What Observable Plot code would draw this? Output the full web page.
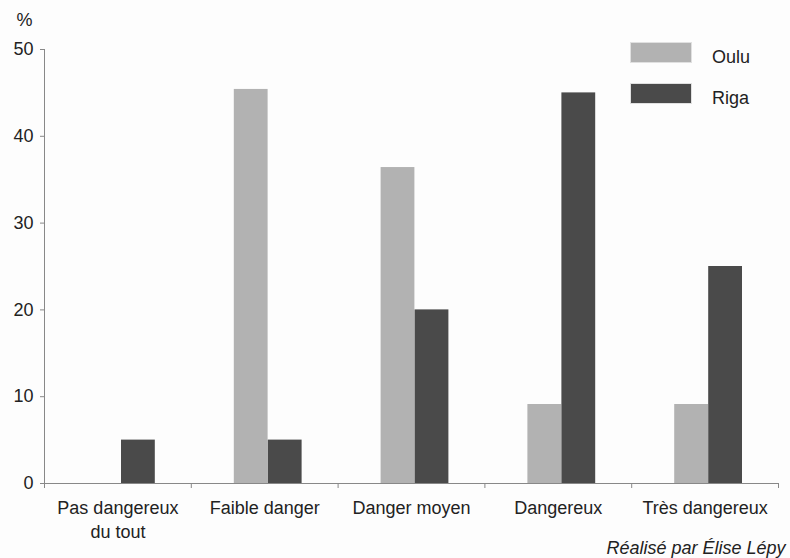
<!DOCTYPE html>
<html><head><meta charset="utf-8">
<script src="https://cdn.jsdelivr.net/npm/d3@7"></script>
<script src="https://cdn.jsdelivr.net/npm/@observablehq/plot@0.6"></script>
<style>
body{margin:0;background:#fdfdfd;font-family:"Liberation Sans",Arial,sans-serif}
#wrap{position:relative;width:790px;height:558px}
.lg{position:absolute;display:flex;align-items:center;font-size:18px;color:#222}
.lg .sw{width:62px;height:21px;box-sizing:border-box;border:1px solid #e0e0e0;margin-right:20px}
.lg span{position:relative;top:5px}
</style></head><body><div id="wrap"></div>
<script>
const categories = ["Pas dangereux\ndu tout","Faible danger","Danger moyen","Dangereux","Très dangereux"];
const series = ["Oulu","Riga"];
const oulu = [0,45.4,36.4,9.1,9.1];
const riga = [5,5,20,45,25];
const colors = ["#b2b2b2","#4a4a4a"];
const yTicks = [0,10,20,30,40,50];
const unitLabel = "%";
const credit = "Réalisé par Élise Lépy";

const rows = [];
categories.forEach((c,i)=>{
  rows.push({cat:c,i,series:"Oulu",value:oulu[i]});
  rows.push({cat:c,i,series:"Riga",value:riga[i]});
});

const plot = Plot.plot({
  width:790, height:558,
  marginLeft:44, marginRight:12, marginTop:49, marginBottom:75,
  style:{fontFamily:"'Liberation Sans', Arial, sans-serif", fontSize:"18px", color:"#222", background:"transparent"},
  x:{domain:[0,categories.length], axis:null},
  y:{domain:[0,50], axis:null},
  color:{domain:series, range:colors},
  marks:[
    Plot.rectY(rows.filter(d=>d.series==="Oulu"), {x1:"i", x2:d=>d.i+1, y:"value", fill:"series", insetLeft:43, insetRight:70}),
    Plot.rectY(rows.filter(d=>d.series==="Riga"), {x1:"i", x2:d=>d.i+1, y:"value", fill:"series", insetLeft:77, insetRight:36}),
    Plot.axisY({ticks:yTicks, tickSize:4, tickPadding:7, label:null, stroke:"#888", fill:"#222", fontSize:18}),
    Plot.axisX({ticks:d3.range(categories.length+1), tickFormat:()=>"", tickSize:5, label:null, stroke:"#888"}),
    Plot.ruleX([0], {stroke:"#888"}),
    Plot.ruleY([0], {stroke:"#888"}),
    Plot.text(categories, {x:(d,i)=>i+0.5, y:()=>0, text:d=>d, lineAnchor:"top", dy:14, lineHeight:1.33, fontSize:18, fill:"#222"}),
    Plot.text([unitLabel], {frameAnchor:"top-left", textAnchor:"start", lineAnchor:"middle", dx:-28, dy:-29, fontSize:18, fill:"#222"}),
    Plot.text([credit], {frameAnchor:"bottom-right", textAnchor:"end", lineAnchor:"middle", dx:7, dy:65, fontSize:18, fontStyle:"italic", fill:"#222"})
  ]
});
const wrap = document.getElementById("wrap");
wrap.appendChild(plot);
series.forEach((s,k)=>{
  const d = document.createElement("div");
  d.className = "lg";
  d.style.left = "630px";
  d.style.top = (42 + k*41) + "px";
  const sw = document.createElement("div");
  sw.className = "sw";
  sw.style.background = colors[k];
  const t = document.createElement("span");
  t.textContent = s;
  d.appendChild(sw); d.appendChild(t);
  wrap.appendChild(d);
});
</script></body></html>
